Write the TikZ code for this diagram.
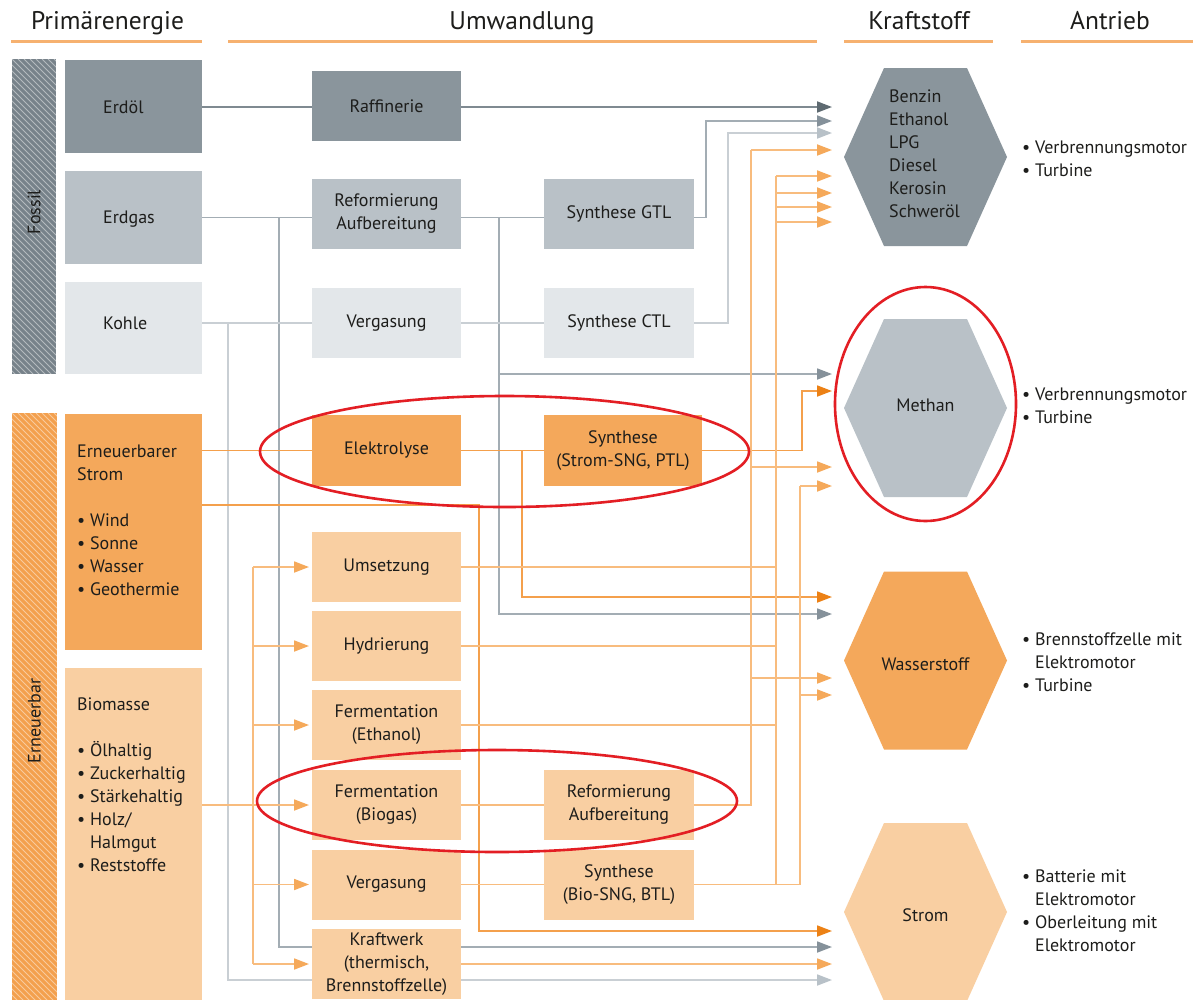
\documentclass[tikz,border=0pt]{standalone}
\usepackage{fontspec}
\setmainfont{PT Sans}
\usetikzlibrary{arrows.meta,shapes.geometric}

% box fills
\definecolor{boxOil}{HTML}{8A959C}
\definecolor{boxGas}{HTML}{B9C1C7}
\definecolor{boxCoal}{HTML}{E3E7EA}
\definecolor{boxRE}{HTML}{F4A85B}
\definecolor{boxBio}{HTML}{F9CFA2}
\definecolor{stripOil}{HTML}{77828A}
\definecolor{stripRE}{HTML}{F3A04E}
% connector colours
\definecolor{lnOil}{HTML}{7F8A91}
\definecolor{tpOil}{HTML}{5E6A71}
\definecolor{lnGas}{HTML}{A3ADB4}
\definecolor{tpGas}{HTML}{85919A}
\definecolor{lnCoal}{HTML}{C9CFD4}
\definecolor{tpCoal}{HTML}{B8C1C8}
\definecolor{lnRE}{HTML}{F4A04C}
\definecolor{tpRE}{HTML}{EC8115}
\definecolor{lnBio}{HTML}{F8BC7E}
\definecolor{tpBio}{HTML}{F5A95A}
\definecolor{headLine}{HTML}{F6B170}
\definecolor{ringRed}{HTML}{E31E24}
\definecolor{ink}{HTML}{1D1D1B}

\newcommand{\txtbody}{\fontsize{18}{23}\selectfont}
\newcommand{\txthead}{\fontsize{25.5}{30}\selectfont}

\tikzset{
  every node/.style={text=ink, font=\txtbody},
  prim/.style={inner sep=0pt, outer sep=0pt, minimum width=137pt},
  proc/.style={inner sep=0pt, outer sep=0pt, align=center, minimum width=149pt, minimum height=70pt},
  procB/.style={proc, minimum width=150pt},
  label/.style={inner sep=0pt, align=left},
  head/.style={font=\txthead, inner sep=0pt, text height=18pt, text depth=6pt},
  headL/.style={draw=headLine, line width=3pt},
  ring/.style={ellipse, draw=ringRed, line width=2.6pt, inner sep=0pt},
  hexagon/.pic={\path[pic actions] (-41.5,-89) -- (41.5,-89) -- (81.5,0) -- (41.5,89) -- (-41.5,89) -- (-81.5,0) -- cycle;},
  tipshape/.style={-{Triangle[length=15pt,width=11pt,color=#1]}},
  oilL/.style={draw=lnOil, line width=1.8pt},
  gasL/.style={draw=lnGas, line width=1.8pt},
  coalL/.style={draw=lnCoal, line width=1.8pt},
  reL/.style={draw=lnRE, line width=1.8pt},
  bioL/.style={draw=lnBio, line width=1.8pt},
  oilA/.style={oilL, tipshape=tpOil},
  gasA/.style={gasL, tipshape=tpGas},
  coalA/.style={coalL, tipshape=tpCoal},
  reA/.style={reL, tipshape=tpRE},
  bioA/.style={bioL, tipshape=tpBio},
  bioIn/.style={bioA, shorten >=3pt},
}

\begin{document}
\begin{tikzpicture}[x=1pt,y=-1pt]
\useasboundingbox (0,0) rectangle (1193,999);
\fill[white] (0,0) rectangle (1193,999);

% ---------- column headings ----------
\node[head] (hPrim) at (107.5,23.5) {Primärenergie};
\node[head] (hUmw) at (522,23.5) {Umwandlung};
\node[head] (hKraft) at (919,23.5) {Kraftstoff};
\node[head] (hAntr) at (1110,23.5) {Antrieb};
\draw[headL] (11,41.5) -- (202,41.5);
\draw[headL] (228,41.5) -- (817,41.5);
\draw[headL] (844,41.5) -- (993,41.5);
\draw[headL] (1021,41.5) -- (1193,41.5);

% ---------- hatched group strips ----------
\begin{scope}
  \clip (11.5,59) rectangle (56,374);
  \fill[stripOil] (11.5,59) rectangle (56,374);
  \foreach \i in {-330,-324,...,60}
    \draw[white, opacity=0.45, line width=0.9pt] (\i,59) -- ++(340,340);
\end{scope}
\node[rotate=90, inner sep=0pt] (fossil) at (34,212) {Fossil};
\begin{scope}
  \clip (12,413) rectangle (57,1000);
  \fill[stripRE] (12,413) rectangle (57,1000);
  \foreach \i in {-600,-594,...,60}
    \draw[white, opacity=0.45, line width=0.9pt] (\i,413) -- ++(600,600);
\end{scope}
\node[rotate=90, inner sep=0pt] (erneuerbar) at (34.5,721) {Erneuerbar};

% ---------- primary energy ----------
\node[prim, fill=boxOil, minimum height=93pt] (erdoel) at (133.5,106.5) {};
\node[prim, fill=boxGas, minimum height=93pt] (erdgas) at (133.5,217.5) {};
\node[prim, fill=boxCoal, minimum height=92pt] (kohle) at (133.5,328) {};
\node[prim, fill=boxRE, minimum height=236pt] (estrom) at (133.5,532) {};
\node[prim, fill=boxBio, minimum height=337pt] (biomasse) at (133.5,836.5) {};
\node[label, anchor=west, text height=13pt, text depth=4pt] (tErdoel) at (103,109) {Erdöl};
\node[label, anchor=west, text height=13pt, text depth=4pt] (tErdgas) at (103,219) {Erdgas};
\node[label, anchor=west, text height=13pt, text depth=4pt] (tKohle) at (103,325) {Kohle};
\node[label, anchor=north west] (tEstrom) at (77,445)
  {Erneuerbarer\\Strom\\[23pt]• Wind\\• Sonne\\• Wasser\\• Geothermie};
\node[label, anchor=north west] (tBiomasse) at (77,698)
  {Biomasse\\[23pt]• Ölhaltig\\• Zuckerhaltig\\• Stärkehaltig\\• Holz/\\\hphantom{• }Halmgut\\• Reststoffe};

% ---------- conversion ----------
\node[proc, fill=boxOil] (raff) at (386.5,106) {Raffinerie};
\node[proc, fill=boxGas] (reform) at (386.5,214) {Reformierung\\Aufbereitung};
\node[proc, fill=boxCoal] (vergF) at (386.5,323) {Vergasung};
\node[procB, fill=boxGas] (gtl) at (619,214) {Synthese GTL};
\node[procB, fill=boxCoal] (ctl) at (619,323) {Synthese CTL};
\node[proc, fill=boxRE, minimum height=71pt] (elektro) at (386.5,450.5) {Elektrolyse};
\node[proc, fill=boxRE, minimum height=71pt, minimum width=158pt] (synS) at (623,450.5) {Synthese\\(Strom-SNG, PTL)};
\node[proc, fill=boxBio] (umsetz) at (386.5,567) {Umsetzung};
\node[proc, fill=boxBio] (hydr) at (386.5,646) {Hydrierung};
\node[proc, fill=boxBio] (fermE) at (386.5,725) {Fermentation\\(Ethanol)};
\node[proc, fill=boxBio] (fermB) at (386.5,805) {Fermentation\\(Biogas)};
\node[proc, fill=boxBio] (vergB) at (386.5,884.5) {Vergasung};
\node[proc, fill=boxBio] (kraft) at (386.5,964) {Kraftwerk\\(thermisch,\\Brennstoffzelle)};
\node[procB, fill=boxBio] (reformB) at (619,805) {Reformierung\\Aufbereitung};
\node[procB, fill=boxBio] (synB) at (619,884.5) {Synthese\\(Bio-SNG, BTL)};

% ---------- fuels ----------
\pic[fill=boxOil] at (925.5,157) {hexagon};
\pic[fill=boxGas] at (925.5,408) {hexagon};
\pic[fill=boxRE] at (925.5,660.5) {hexagon};
\pic[fill=boxBio] at (925.5,912) {hexagon};
\node[label, anchor=west] (fuel) at (889,154) {Benzin\\Ethanol\\LPG\\Diesel\\Kerosin\\Schweröl};
\node[inner sep=0pt] (methan) at (925.5,405) {Methan};
\node[inner sep=0pt] (wasserstoff) at (925.5,664) {Wasserstoff};
\node[inner sep=0pt] (strom) at (925.5,915) {Strom};

% ---------- drives ----------
\node[label, anchor=west] (dFuel) at (1022,159) {• Verbrennungsmotor\\• Turbine};
\node[label, anchor=west] (dMethan) at (1022,406) {• Verbrennungsmotor\\• Turbine};
\node[label, anchor=west] (dH2) at (1022,662) {• Brennstoffzelle mit\\\hphantom{• }Elektromotor\\• Turbine};
\node[label, anchor=west] (dStrom) at (1022,910.5) {• Batterie mit\\\hphantom{• }Elektromotor\\• Oberleitung mit\\\hphantom{• }Elektromotor};

% ---------- routing coordinates ----------
\coordinate (coalV) at (228,0);
\coordinate (bioV) at (253,0);
\coordinate (gasV) at (279,0);
\coordinate (stromV) at (479,505);
\coordinate (refV) at (499,0);
\coordinate (h2V) at (522,0);
\coordinate (gtlX) at (706,0);
\coordinate (ctlX) at (728,0);
\coordinate (busA) at (751,0);
\coordinate (busB) at (776,0);
\coordinate (busC) at (800,0);
\coordinate (mX) at (802,0);
\foreach \n/\y in {f1/107,f2/121,f3/133,f4/150,f5/176,f6/193,f7/207,f8/222,
                   m1/374,m2/391,m3/467,m4/486,
                   w1/597,w2/614,w3/678,w4/695,
                   s1/931,s2/947,s3/964,s4/980}
  \coordinate (\n) at (832,\y);

% ---------- crude oil ----------
\draw[oilL] (erdoel.east |- f1) -- (raff.west |- f1);
\draw[oilA] (raff.east |- f1) -- (f1);

% ---------- natural gas ----------
\draw[gasL] (erdgas.east) -- (erdgas.east -| reform.west);
\draw[gasL] (reform.east |- erdgas.east) -- (gtl.west |- erdgas.east);
\draw[gasA] (gtl.east |- erdgas.east) -- (gtlX |- erdgas.east) -- (gtlX |- f2) -- (f2);
\draw[gasL] (gasV |- erdgas.east) -- (gasV |- s2) -- (kraft.west |- s2);
\draw[gasA] (kraft.east |- s2) -- (s2);
\draw[gasA] (refV |- erdgas.east) -- (refV |- w2) -- (w2);
\draw[gasA] (refV |- m1) -- (m1);

% ---------- coal ----------
\draw[coalL] (kohle.east |- vergF.west) -- (vergF.west);
\draw[coalL] (vergF.east) -- (ctl.west);
\draw[coalA] (ctl.east) -- (ctlX |- ctl.east) -- (ctlX |- f3) -- (f3);
\draw[coalL] (coalV |- vergF.west) -- (coalV |- s4) -- (kraft.west |- s4);
\draw[coalA] (kraft.east |- s4) -- (s4);

% ---------- renewable electricity ----------
\draw[reL] (estrom.east |- elektro.west) -- (elektro.west);
\draw[reL] (elektro.east) -- (synS.west);
\draw[reA] (h2V |- elektro.east) -- (h2V |- w1) -- (w1);
\draw[reA] (synS.east) -- (mX |- synS.east) -- (mX |- m2) -- (m2);
\draw[reA] (estrom.east |- stromV) -- (stromV) -- (stromV |- s1) -- (s1);

% ---------- biomass ----------
\draw[bioIn] (biomasse.east |- fermB.west) -- (fermB.west);
\draw[bioL] (bioV |- umsetz.west) -- (bioV |- kraft.west);
\foreach \b in {umsetz,hydr,fermE,vergB,kraft}
  \draw[bioIn] (bioV |- \b.west) -- (\b.west);
\draw[bioL] (fermB.east) -- (reformB.west);
\draw[bioL] (vergB.east) -- (synB.west);
\draw[bioL] (reformB.east) -- (busA |- reformB.east) -- (busA |- f4);
\foreach \t in {f4,m3,w3}
  \draw[bioA] (busA |- \t) -- (\t);
\foreach \b in {umsetz,hydr,fermE}
  \draw[bioL] (\b.east) -- (busB |- \b.east);
\draw[bioL] (synB.east) -- (busC |- synB.east) -- (busC |- m4);
\draw[bioL] (busB |- synB.east) -- (busB |- f5);
\foreach \t in {f5,f6,f7,f8}
  \draw[bioA] (busB |- \t) -- (\t);
\foreach \t in {m4,w4}
  \draw[bioA] (busC |- \t) -- (\t);
\draw[bioA] (kraft.east) -- (s3);

% ---------- highlight rings ----------
\node[ring, minimum width=489pt, minimum height=111pt] (ringPtg) at (504.5,451.5) {};
\node[ring, minimum width=480pt, minimum height=102pt] (ringBio) at (497,801) {};
\node[ring, minimum width=181pt, minimum height=234pt] (ringMethan) at (925.5,404) {};
\end{tikzpicture}
\end{document}
